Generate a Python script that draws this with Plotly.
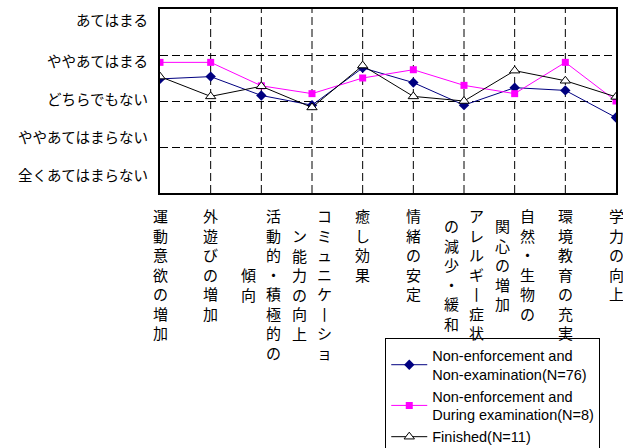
import plotly.graph_objects as go

categories = ["運動意欲の増加", "外遊びの増加", "活動的・積極的の傾向", "コミュニケーション能力の向上",
              "癒し効果", "情緒の安定", "アレルギー症状の減少・緩和", "自然・生物の関心の増加",
              "環境教育の充実", "学力の向上"]
# vertical-writing columns of each category label (right column first)
label_columns = [["運動意欲の増加"], ["外遊びの増加"], ["活動的・積極的の", "傾向"],
                 ["コミュニケ丨ショ", "ン能力の向上"], ["癒し効果"], ["情緒の安定"],
                 ["アレルギ丨症状", "の減少・緩和"], ["自然・生物の", "関心の増加"],
                 ["環境教育の充実"], ["学力の向上"]]

non_exam = [2.48, 2.53, 2.12, 1.91, 2.72, 2.40, 1.91, 2.29, 2.23, 1.64]
during_exam = [2.84, 2.84, 2.33, 2.16, 2.50, 2.68, 2.34, 2.16, 2.84, 2.00]
finished = [2.53, 2.10, 2.32, 1.86, 2.77, 2.10, 2.00, 2.66, 2.44, 2.09]

series_names = ["Non-enforcement and<br>Non-examination(N=76)",
                "Non-enforcement and<br>During examination(N=8)",
                "Finished(N=11)"]

y_tick_labels = ["あてはまる", "ややあてはまる", "どちらでもない", "ややあてはまらない", "全くあてはまらない"]
y_tick_positions = [3.77, 2.89, 2.06, 1.22, 0.40]
grid_values = [1, 2, 3]

JP = "Noto Sans CJK JP"
idx = list(range(len(categories)))

fig = go.Figure()
fig.add_trace(go.Scatter(x=idx, y=non_exam, name=series_names[0], mode="lines+markers",
                         text=categories, hovertemplate="%{text}: %{y}",
                         line=dict(color="#000080", width=1),
                         marker=dict(symbol="diamond", size=8, color="#000080")))
fig.add_trace(go.Scatter(x=idx, y=during_exam, name=series_names[1], mode="lines+markers",
                         text=categories, hovertemplate="%{text}: %{y}",
                         line=dict(color="#FF00FF", width=1),
                         marker=dict(symbol="square", size=7, color="#FF00FF")))
fig.add_trace(go.Scatter(x=idx, y=finished, name=series_names[2], mode="lines+markers",
                         text=categories, hovertemplate="%{text}: %{y}",
                         line=dict(color="black", width=1),
                         marker=dict(symbol="triangle-up", size=9, color="white",
                                     line=dict(color="black", width=1))))

annotations = []
for txt, pos in zip(y_tick_labels, y_tick_positions):
    annotations.append(dict(text=txt, xref="paper", x=0, xanchor="right", xshift=-10,
                            yref="y", y=pos, yanchor="middle", showarrow=False,
                            font=dict(family=JP, size=14.5, color="black")))

col_gap = 25
row_h = 19.5
for i, cols in zip(idx, label_columns):
    n = len(cols)
    maxlen = max(len(c) for c in cols)
    for j, col in enumerate(cols):
        annotations.append(dict(text="<br>".join(col), xref="x", x=i, xanchor="center",
                                xshift=((n - 1) / 2 - j) * col_gap,
                                yref="paper", y=0, yanchor="top",
                                yshift=-10 - (maxlen - len(col)) / 2 * row_h,
                                showarrow=False, align="center",
                                font=dict(family=JP, size=15, color="black")))

# vertical dashed grid lines at every category
shapes = [dict(type="line", xref="x", x0=i, x1=i, yref="paper", y0=0, y1=1, layer="below",
               line=dict(color="black", width=1, dash="8px,4px")) for i in idx[1:-1]]

fig.update_layout(
    width=623, height=448,
    margin=dict(l=160, r=7, t=9, b=255, autoexpand=False),
    paper_bgcolor="white", plot_bgcolor="white",
    showlegend=True,
    legend=dict(x=0.494, y=-0.79, xanchor="left", yanchor="top",
                bordercolor="black", borderwidth=1, bgcolor="white",
                font=dict(family="Liberation Sans", size=14.5, color="black"),
                itemwidth=36, tracegroupgap=0),
    annotations=annotations,
    shapes=shapes,
)
fig.update_xaxes(range=[0, len(categories) - 1], tickvals=idx, showticklabels=False,
                 showgrid=False,
                 zeroline=False, showline=True, linecolor="black", linewidth=1.5, mirror=True, ticks="")
fig.update_yaxes(range=[0, 4], tickvals=grid_values, showticklabels=False,
                 showgrid=True, gridcolor="black", gridwidth=1, griddash="8px,4px",
                 zeroline=False, showline=True, linecolor="black", linewidth=1.5, mirror=True, ticks="")

fig.write_html("out.html")
